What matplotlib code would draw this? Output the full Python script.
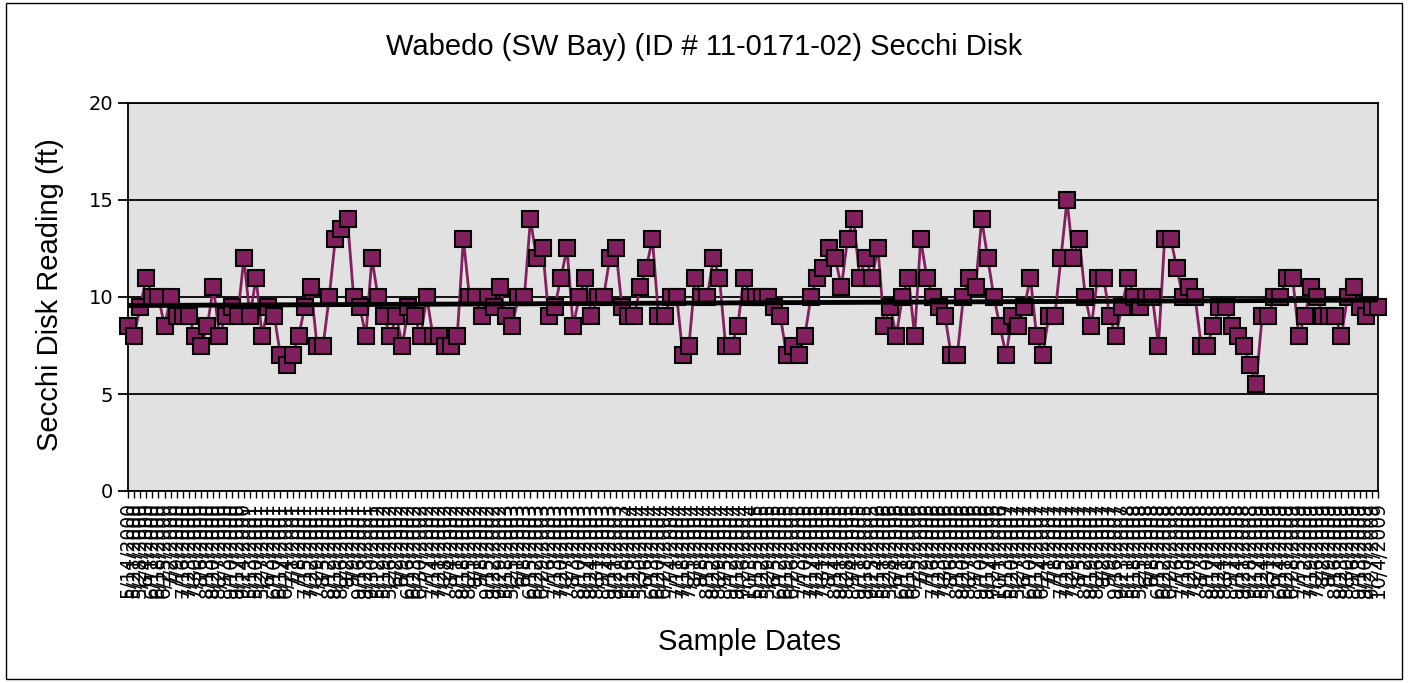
import numpy as np
import matplotlib
matplotlib.use("Agg")
import matplotlib.pyplot as plt
from matplotlib.patches import Rectangle

# secchi readings (ft) in order
secchi = [8.5, 8, 9.5, 11, 10, 10, 8.5, 10, 9, 9, 9, 8, 7.5, 8.5, 10.5, 8, 9, 9.5, 9, 12,
          9, 11, 8, 9.5, 9, 7, 6.5, 7, 8, 9.5, 10.5, 7.5, 7.5, 10, 13, 13.5, 14, 10, 9.5, 8,
          12, 10, 9, 8, 9, 7.5, 9.5, 9, 8, 10,
          8, 8, 7.5, 7.5, 8, 13, 10, 10, 9, 10, 9.5, 10.5, 9, 8.5, 10, 10, 14, 12, 12.5, 9,
          9.5, 11, 12.5, 8.5, 10, 11, 9, 10, 10, 12, 12.5, 9.5, 9, 9, 10.5, 11.5, 13, 9, 9, 10,
          10, 7, 7.5, 11, 10, 10, 12, 11, 7.5, 7.5, 8.5, 11, 10,
          10, 10, 10, 9.5, 9, 7, 7.5, 7, 8, 10, 11, 11.5, 12.5, 12, 10.5, 13, 14, 11, 12, 11,
          12.5, 8.5, 9.5, 8, 10, 11, 8, 13, 11, 10, 9.5, 9, 7, 7, 10, 11, 10.5, 14, 12, 10,
          8.5, 7, 9, 8.5, 9.5, 11, 8, 7, 9, 9,
          12, 15, 12, 13, 10, 8.5, 11, 11, 9, 8, 9.5, 11, 10, 9.5, 10, 10, 7.5, 13, 13, 11.5,
          10, 10.5, 10, 7.5, 7.5, 8.5, 9.5, 9.5, 8.5, 8, 7.5, 6.5, 5.5, 9, 9, 10, 10, 11, 11, 8,
          9, 10.5, 10, 9, 9, 9, 8, 10, 10.5, 9.5, 9, 9.5, 9.5]

# sample dates (labels are unreadable in the picture, these are estimates)
years = [2000, 2001, 2002, 2003, 2004, 2005, 2006, 2007, 2008, 2009]
days = [
    "5/14 5/21 5/28 6/4 6/11 6/18 6/25 7/2 7/9 7/16 7/23 7/30 8/6 8/13 8/20 8/27 9/3 9/10 9/17 9/24",
    "5/13 5/20 5/27 6/3 6/10 6/17 6/24 7/1 7/8 7/15 7/22 7/29 8/5 8/12 8/19 8/26 9/2 9/9 9/16 9/23 9/30",
    "5/12 5/19 5/26 6/2 6/9 6/16 6/23 6/30 7/7 7/14 7/21 7/28 8/4 8/11 8/18 8/25 9/1 9/8 9/15 9/22 9/29",
    "5/18 5/25 6/1 6/8 6/15 6/22 6/29 7/6 7/13 7/20 7/27 8/3 8/10 8/17 8/24 8/31 9/7 9/14 9/21 9/28",
    "5/16 5/23 5/30 6/6 6/13 6/20 6/27 7/4 7/11 7/18 7/25 8/1 8/8 8/15 8/22 8/29 9/5 9/12 9/19 9/26 10/3",
    "5/15 5/22 5/29 6/5 6/12 6/19 6/26 7/3 7/10 7/17 7/24 7/31 8/7 8/14 8/21 8/28 9/4 9/11 9/18 9/25",
    "5/14 5/21 5/28 6/4 6/11 6/18 6/25 7/2 7/9 7/16 7/23 7/30 8/6 8/13 8/20 8/27 9/3 9/10 9/17 9/24 10/1",
    "5/13 5/20 5/27 6/3 6/10 6/17 6/24 7/1 7/8 7/15 7/22 7/29 8/5 8/12 8/19 8/26 9/2 9/9 9/16 9/23",
    "5/11 5/18 5/25 6/1 6/8 6/15 6/22 6/29 7/6 7/13 7/20 7/27 8/3 8/10 8/17 8/24 8/31 9/7 9/14 9/21 9/28",
    "5/17 5/24 5/31 6/7 6/14 6/21 6/28 7/5 7/12 7/19 7/26 8/2 8/9 8/16 8/23 8/30 9/6 9/13 9/20 9/27 10/4",
]
dates = [d + "/" + str(y) for y, s in zip(years, days) for d in s.split()]

n = min(len(secchi), len(dates))
secchi = secchi[:n]
dates = dates[:n]
x = np.arange(n)

purple = "#82205f"

fig = plt.figure(figsize=(14.09, 6.83), dpi=100)
fig.patches.append(Rectangle((0.004, 0.006), 0.991, 0.99, transform=fig.transFigure,
                             fill=False, edgecolor="black", linewidth=1))

ax = fig.add_axes([128/1409, 1-491/683, 1250/1409, 388/683])
ax.set_facecolor("#e1e1e1")

ax.plot(x, secchi, color=purple, lw=2, marker="s", ms=11.5, mfc=purple, mec="black",
        mew=1.5, clip_on=False, zorder=3)

# linear trend line
k, b = np.polyfit(x, secchi, 1)
ax.plot([x[0], x[-1]], [k*x[0]+b, k*x[-1]+b], color="black", lw=3.5, zorder=4)

ax.set_ylim(0, 20)
ax.set_xlim(0, n-1)
ax.set_yticks([0, 5, 10, 15, 20])
ax.yaxis.grid(True, color="black", lw=1.3)
ax.set_axisbelow(True)
for sp in ax.spines.values():
    sp.set_color("black")
    sp.set_linewidth(1.3)

ax.tick_params(axis="y", labelsize=14, length=7, width=1.3, direction="out")
ax.set_xticks(x)
ax.set_xticklabels(dates, rotation=90, fontsize=13.5, va="top", ha="center")
ax.tick_params(axis="x", length=5, width=1, direction="out", pad=3)

fig.text(0.5, 1-47/683, "Wabedo (SW Bay) (ID # 11-0171-02) Secchi Disk",
         ha="center", va="center", fontsize=21, family="Liberation Sans")
fig.text(50/1409, 1-295/683, "Secchi Disk Reading (ft)", rotation=90,
         ha="center", va="center", fontsize=21, family="Liberation Sans")
fig.text(750/1409, 1-642/683, "Sample Dates", ha="center", va="center",
         fontsize=21, family="Liberation Sans")

fig.savefig("out.png", dpi=100)
